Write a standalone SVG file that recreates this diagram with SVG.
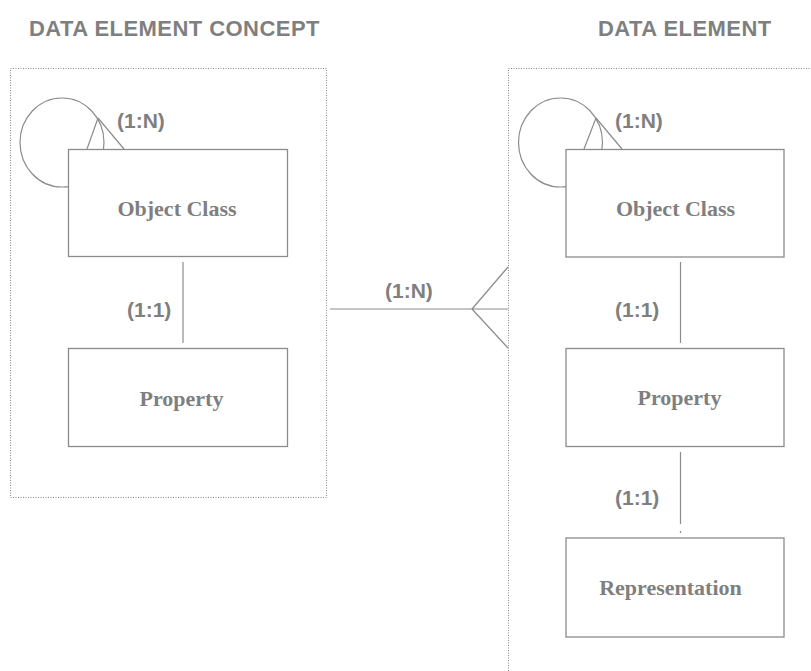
<svg xmlns="http://www.w3.org/2000/svg" width="811" height="671" viewBox="0 0 811 671">
<style>
.title{font-family:"Liberation Sans",Arial,sans-serif;font-weight:bold;font-size:22px;letter-spacing:0.45px;fill:#7f7f7f}
.lbl{font-family:"Liberation Sans",Arial,sans-serif;font-weight:bold;font-size:21px;fill:#7f7f7f}
.node{font-family:"Liberation Serif","Times New Roman",serif;font-weight:bold;font-size:22px;fill:#7f7f7f}
.box{fill:#ffffff;stroke:#8c8c8c;stroke-width:1.3}
.frame{fill:none;stroke:#8a8a8a;stroke-width:1;stroke-dasharray:1,1.5}
.ln{fill:none;stroke:#8c8c8c;stroke-width:1.2}
</style>
<rect width="811" height="671" fill="#ffffff"/>
<g id="group-dec">
<rect class="frame" x="10.5" y="68.5" width="316" height="429"/>
<text class="title" x="29" y="36">DATA ELEMENT CONCEPT</text>
</g>
<g id="group-de">
<rect class="frame" x="508.5" y="68.5" width="400" height="700"/>
<text class="title" x="598" y="36">DATA ELEMENT</text>
</g>
<g id="connectors">
<ellipse class="ln" cx="62" cy="142.5" rx="42" ry="44.5"/>
<path class="ln" d="M98,118 L87,149 M98,118 L124,149"/>
<ellipse class="ln" cx="560.5" cy="142.5" rx="42" ry="44.5"/>
<path class="ln" d="M596,118 L584,149 M596,118 L622,149"/>
<path class="ln" d="M183,262 V343"/>
<path class="ln" d="M680.5,262 V343"/>
<path class="ln" d="M680.5,452 V524 M680.5,531 V533"/>
<path class="ln" d="M330,309 H508 M472,309 L508,267 M472,309 L508,348"/>
<text class="lbl" x="117" y="128">(1:N)</text>
<text class="lbl" x="615" y="128">(1:N)</text>
<text class="lbl" x="385" y="298">(1:N)</text>
<text class="lbl" x="127" y="317">(1:1)</text>
<text class="lbl" x="615" y="317">(1:1)</text>
<text class="lbl" x="615" y="505">(1:1)</text>
</g>
<g id="dec-object-class">
<rect class="box" x="68.5" y="149.5" width="219" height="107"/>
<text class="node" x="177" y="216" text-anchor="middle">Object Class</text>
</g>
<g id="dec-property">
<rect class="box" x="68.5" y="348.5" width="219" height="98"/>
<text class="node" x="181.5" y="406" text-anchor="middle">Property</text>
</g>
<g id="de-object-class">
<rect class="box" x="566" y="149.5" width="218" height="107.5"/>
<text class="node" x="675.5" y="216" text-anchor="middle">Object Class</text>
</g>
<g id="de-property">
<rect class="box" x="566" y="348.5" width="218" height="98"/>
<text class="node" x="679.5" y="405" text-anchor="middle">Property</text>
</g>
<g id="de-representation">
<rect class="box" x="566" y="538" width="218" height="99"/>
<text class="node" x="670.5" y="595" text-anchor="middle">Representation</text>
</g>
</svg>
